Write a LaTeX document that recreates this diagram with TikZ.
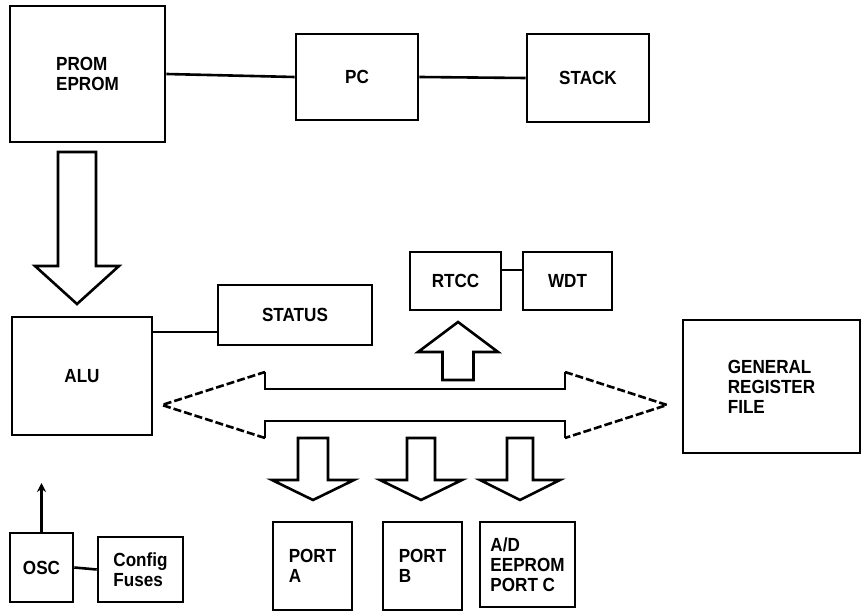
\documentclass[tikz,border=0pt]{standalone}
\usepackage{fontspec}
\setmainfont{Liberation Sans}[FakeStretch=0.9]
\usepackage{xcolor}
\usetikzlibrary{arrows.meta, positioning, calc}

% #1 tail, #2 tip, #3 shaft half width, #4 head half width, #5 head base offset
\newcommand{\fatarrow}[5]{%
  \draw[bus] ($(#1)+(-#3,0)$) -- ($(#2)+(-#3,#5)$) -- ($(#2)+(-#4,#5)$) -- (#2)
    -- ($(#2)+(#4,#5)$) -- ($(#2)+(#3,#5)$) -- ($(#1)+(#3,0)$) -- cycle;}

\begin{document}
\begin{tikzpicture}[x=1bp, y=-1bp, line width=2.6bp,
    blk/.style={rectangle, draw, inner sep=0pt, align=left,
      font=\fontsize{19bp}{20bp}\selectfont\bfseries},
    dims/.style 2 args={minimum width=#1bp, minimum height=#2bp},
    bus/.style={line join=miter},
    headline/.style={dash pattern=on 8bp off 3bp}]
    \useasboundingbox (0,0) rectangle (862,612);

    \node[blk, dims={155}{136}] (prom) at (87.5,74) {PROM\\EPROM};
    \node[blk, dims={122}{86}] (pc) at (357,77) {PC};
    \node[blk, dims={122}{88}] (stack) at (588,78) {STACK};
    \node[blk, dims={140}{118}] (alu) at (82,376) {ALU};
    \node[blk, dims={154}{60}] (status) at (295,315) {STATUS};
    \node[blk, dims={91}{58}] (rtcc) at (455.5,281) {RTCC};
    \node[blk, dims={89}{58}] (wdt) at (567.5,281) {WDT};
    \node[blk, dims={177}{133}] (grf) at (771.5,386.5) {GENERAL\\REGISTER\\FILE};
    \node[blk, dims={79}{88}] (porta) at (312.5,566) {PORT\\A};
    \node[blk, dims={79}{88}] (portb) at (422.5,566) {PORT\\B};
    \node[blk, dims={95}{85}] (portc) at (527.5,564.5) {A/D\\EEPROM\\PORT C};
    \node[blk, dims={63}{69}] (osc) at (41.5,567.5) {OSC};
    \node[blk, dims={85}{65}] (cfg) at (140.5,569.5) {Config\\Fuses};

    \draw (prom.east) -- (pc.west);
    \draw (pc.east) -- (stack.west);
    \draw ([yshift=-17bp]status.west) -- ([yshift=-17bp]status.west -| alu.east);
    \draw ([yshift=11bp]rtcc.east) -- ([yshift=11bp]rtcc.east -| wdt.west);
    \draw (osc.east) -- (cfg.west);
    \coordinate (clk) at (osc.north |- 0,483);
    \draw[-{Stealth[length=9bp, width=9bp]}] (osc.north) -- (clk);

    \coordinate (p1) at (77,152);  \coordinate (p2) at (77,304);
    \fatarrow{p1}{p2}{19}{42}{-38}
    \coordinate (r1) at (458,380); \coordinate (r2) at (458,322);
    \fatarrow{r1}{r2}{15.5}{40}{30}
    \coordinate (a1) at (313,438); \coordinate (a2) at (313,500);
    \fatarrow{a1}{a2}{15}{41}{-20}
    \coordinate (b1) at (421,438); \coordinate (b2) at (421,500);
    \fatarrow{b1}{b2}{14}{41}{-20}
    \coordinate (c1) at (520,438); \coordinate (c2) at (520,500);
    \fatarrow{c1}{c2}{13}{40}{-20}

    \draw[bus] (265,372) -- (265,389) -- (565,389) -- (565,372);
    \draw[bus] (565,438) -- (565,421) -- (265,421) -- (265,438);
    \draw[headline] (565,372) -- (667,405) -- (565,438);
    \draw[headline] (265,438) -- (162,405) -- (265,372);
\end{tikzpicture}
\end{document}
